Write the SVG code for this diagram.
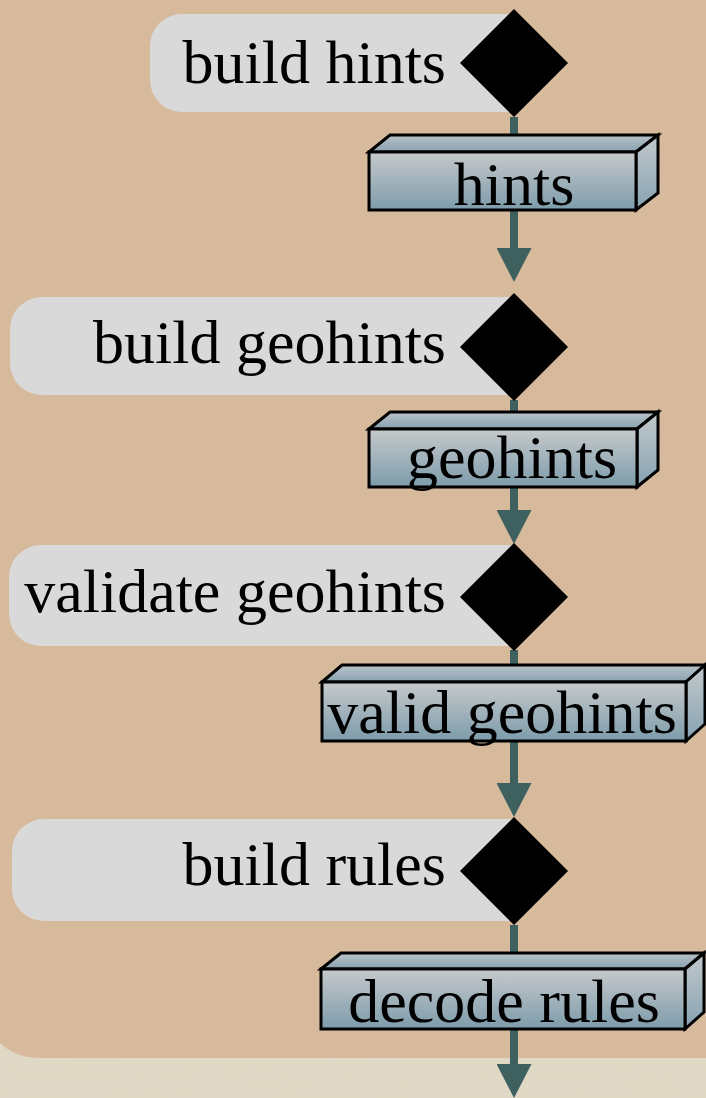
<svg xmlns="http://www.w3.org/2000/svg" width="706" height="1098" viewBox="0 0 706 1098">
  <defs>
    <style>
      .lbl { fill: #d9d9d9; }
      .dia { fill: #000; }
      .txt { font-family: "Liberation Serif", "DejaVu Serif", serif; font-size: 62px; fill: #000; }
      .edge { stroke: #3e6160; stroke-width: 8; fill: none; }
      .face { stroke: #000; stroke-width: 3; stroke-linejoin: miter; }
      .front { fill: url(#frontGrad); }
      .top { fill: url(#topGrad); }
      .side { fill: url(#sideGrad); }
    </style>
    <linearGradient id="frontGrad" x1="0" y1="0" x2="0" y2="1">
      <stop offset="0" stop-color="#c6c9cb"/>
      <stop offset="1" stop-color="#7d9cab"/>
    </linearGradient>
    <linearGradient id="topGrad" x1="0" y1="0" x2="0" y2="1">
      <stop offset="0" stop-color="#b9c3c9"/>
      <stop offset="1" stop-color="#88a1af"/>
    </linearGradient>
    <linearGradient id="sideGrad" x1="0" y1="0" x2="0" y2="1">
      <stop offset="0" stop-color="#c3c9cc"/>
      <stop offset="1" stop-color="#86a2b1"/>
    </linearGradient>
    <marker id="head" viewBox="0 0 34 35" refX="0" refY="17.5" markerWidth="34" markerHeight="35" markerUnits="userSpaceOnUse" orient="auto">
      <path d="M0,0 L34,17.5 L0,35 Z" fill="#3e6160"/>
    </marker>
    <filter id="grain" x="0" y="0" width="100%" height="100%">
      <feTurbulence type="fractalNoise" baseFrequency="0.004 0.35" numOctaves="2" seed="7" result="n"/>
      <feColorMatrix in="n" type="matrix" values="0 0 0 0 0.78  0 0 0 0 0.74  0 0 0 0 0.64  0 0 0 0.35 0"/>
    </filter>
  </defs>

  <!-- paper backdrop -->
  <rect x="0" y="0" width="706" height="1098" fill="#ded7c3"/>
  <rect x="0" y="1040" width="706" height="58" filter="url(#grain)"/>
  <!-- canvas panel -->
  <path d="M0,0 H706 V1058 H42 C22,1058 10,1052 0,1043 Z" fill="#d7b99c"/>

  <!-- connectors -->
  <g id="edges">
    <path class="edge" d="M514,117 V140"/>
    <path class="edge" d="M514,210 V248" marker-end="url(#head)"/>
    <path class="edge" d="M514,400 V415"/>
    <path class="edge" d="M514,487 V510" marker-end="url(#head)"/>
    <path class="edge" d="M514,650 V668"/>
    <path class="edge" d="M514,741 V783" marker-end="url(#head)"/>
    <path class="edge" d="M514,925 V956"/>
    <path class="edge" d="M514,1029 V1064" marker-end="url(#head)"/>
  </g>

  <!-- actions -->
  <g id="build-hints">
    <path class="lbl" d="M182,14 H512 V112 H182 A32,32 0 0 1 150,80 V46 A32,32 0 0 1 182,14 Z"/>
    <text class="txt" x="446" y="83" text-anchor="end">build hints</text>
    <polygon class="dia" points="514,9 568,63 514,117 460,63"/>
  </g>

  <g id="hints">
    <polygon class="face top" points="369,152 390,135 658,135 636,152"/>
    <polygon class="face side" points="636,152 658,135 658,193 636,210"/>
    <rect class="face front" x="369" y="152" width="267" height="58"/>
    <text class="txt" x="514" y="205" text-anchor="middle">hints</text>
  </g>

  <g id="build-geohints">
    <path class="lbl" d="M42,297 H512 V395 H42 A32,32 0 0 1 10,363 V329 A32,32 0 0 1 42,297 Z"/>
    <text class="txt" x="446" y="363" text-anchor="end">build geohints</text>
    <polygon class="dia" points="514,293 568,347 514,401 460,347"/>
  </g>

  <g id="geohints">
    <polygon class="face top" points="369,429 390,412 658,412 637,429"/>
    <polygon class="face side" points="637,429 658,412 658,470 637,487"/>
    <rect class="face front" x="369" y="429" width="268" height="58"/>
    <text class="txt" x="512" y="478" text-anchor="middle">geohints</text>
  </g>

  <g id="validate-geohints">
    <path class="lbl" d="M41,545 H512 V646 H41 A32,32 0 0 1 9,614 V577 A32,32 0 0 1 41,545 Z"/>
    <text class="txt" x="446" y="612" text-anchor="end">validate geohints</text>
    <polygon class="dia" points="514,543 568,597 514,651 460,597"/>
  </g>

  <g id="valid-geohints">
    <polygon class="face top" points="322,682 342,665 705,665 686,682"/>
    <polygon class="face side" points="686,682 705,665 705,724 686,741"/>
    <rect class="face front" x="322" y="682" width="364" height="59"/>
    <text class="txt" x="502" y="733" text-anchor="middle">valid geohints</text>
  </g>

  <g id="build-rules">
    <path class="lbl" d="M44,819 H512 V921 H44 A32,32 0 0 1 12,889 V851 A32,32 0 0 1 44,819 Z"/>
    <text class="txt" x="446" y="885" text-anchor="end">build rules</text>
    <polygon class="dia" points="514,817 568,871 514,925 460,871"/>
  </g>

  <g id="decode-rules">
    <polygon class="face top" points="321,969 341,953 704,953 685,969"/>
    <polygon class="face side" points="685,969 704,953 704,1012 685,1029"/>
    <rect class="face front" x="321" y="969" width="364" height="60"/>
    <text class="txt" x="504" y="1022" text-anchor="middle">decode rules</text>
  </g>
</svg>
